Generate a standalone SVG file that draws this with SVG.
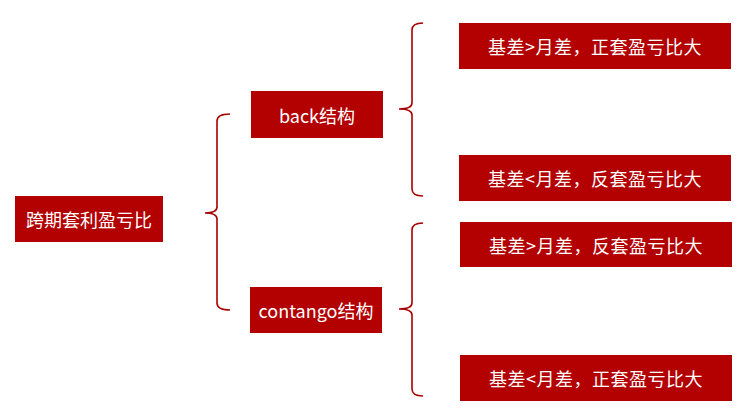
<svg xmlns="http://www.w3.org/2000/svg" width="750" height="420" viewBox="0 0 750 420">
<style>
.box{fill:#b30000}
.t{fill:#ffffff;font-family:"Noto Sans CJK SC","Noto Sans",sans-serif;font-size:18px;text-anchor:middle;dominant-baseline:central}
.w{letter-spacing:0.5px}
.br{fill:none;stroke:#a80000;stroke-width:1.6}
</style>
<rect width="750" height="420" fill="#ffffff"/>
<g id="connectors">
<path class="br" d="M230 114 Q217 114 217 121 L217 207 Q217 213 205 213 Q217 213 217 219 L217 303 Q217 310 230 310"/>
<path class="br" d="M423 23 Q412 23 412 30 L412 103 Q412 109 399 109 Q412 109 412 115 L412 189 Q412 196 423 196"/>
<path class="br" d="M423 223 Q412 223 412 230 L412 303 Q412 309 399 309 Q412 309 412 315 L412 389 Q412 396 423 396"/>
</g>
<g id="root"><rect class="box" x="15" y="196" width="148" height="46"/><text class="t" x="89" y="219">跨期套利盈亏比</text></g>
<g id="back"><rect class="box" x="251" y="91" width="132" height="47"/><text class="t" x="317" y="114.5">back结构</text></g>
<g id="contango"><rect class="box" x="250" y="287" width="132" height="46"/><text class="t" x="316" y="310">contango结构</text></g>
<g id="b1"><rect class="box" x="459" y="23" width="272" height="46"/><text class="t w" x="595" y="46">基差&gt;月差，正套盈亏比大</text></g>
<g id="b2"><rect class="box" x="459" y="155" width="272" height="46"/><text class="t w" x="595" y="178">基差&lt;月差，反套盈亏比大</text></g>
<g id="c1"><rect class="box" x="460" y="222" width="272" height="45"/><text class="t w" x="596" y="244.5">基差&gt;月差，反套盈亏比大</text></g>
<g id="c2"><rect class="box" x="460" y="355" width="272" height="46"/><text class="t w" x="596" y="378">基差&lt;月差，正套盈亏比大</text></g>
</svg>
